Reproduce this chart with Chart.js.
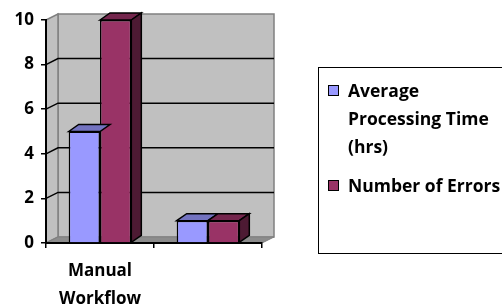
<!DOCTYPE html>
<html>
<head>
<meta charset="utf-8">
<script src="https://cdn.jsdelivr.net/npm/chart.js@4"></script>
<style>
  body { margin: 0; background: #fff; }
  #wrap { position: relative; width: 502px; height: 308px; overflow: hidden; }
  #legend { position: absolute; left: 318px; top: 67px; width: 200px; height: 187px;
    border: 1.5px solid #000; box-sizing: border-box; font: bold 17.5px "Open Sans"; color: #000; }
  .item { position: absolute; left: 0; }
  .sw { position: absolute; left: 9px; width: 9px; height: 9px; border: 1px solid #000; }
  .txt { position: absolute; left: 29px; line-height: 28px; white-space: nowrap; }
</style>
</head>
<body>
<div id="wrap">
  <canvas id="chart" width="502" height="308"></canvas>
  <div id="legend"></div>
</div>
<script>
// chart data
const categories = [['Manual', 'Workflow'], ''];
const seriesNames = ['Average Processing Time (hrs)', 'Number of Errors'];
const avgTime = [5, 1];
const errors = [10, 1];
const yMax = 10;
const yStep = 2;

const frontColors = ['#9999FF', '#993366'];
const topColors = ['#7373C0', '#74264D'];
const sideColors = ['#4C4C80', '#4D1A33'];

// wall depth / bar depth
const wallDx = 12, wallDy = 6;
const barDx = 10, barDy = 7;

function poly(ctx, pts, fill, stroke, lw) {
    ctx.beginPath();
    ctx.moveTo(pts[0][0], pts[0][1]);
    for (let i = 1; i < pts.length; i++) ctx.lineTo(pts[i][0], pts[i][1]);
    ctx.closePath();
    if (fill) { ctx.fillStyle = fill; ctx.fill(); }
    if (stroke) { ctx.strokeStyle = stroke; ctx.lineWidth = lw || 1; ctx.stroke(); }
}

const walls = {
    id: 'walls',
    beforeDraw(chart) {
        const ctx = chart.ctx;
        const a = chart.chartArea;
        const y = chart.scales.y;
        const L = a.left, R = a.right, T = a.top, B = a.bottom;
        ctx.save();
        // back wall
        poly(ctx, [[L + wallDx, T - wallDy], [R + wallDx, T - wallDy], [R + wallDx, B - wallDy], [L + wallDx, B - wallDy]], '#C0C0C0', '#808080', 1.5);
        // side wall
        poly(ctx, [[L, T], [L + wallDx, T - wallDy], [L + wallDx, B - wallDy], [L, B]], '#C0C0C0', '#808080', 1.5);
        // floor
        poly(ctx, [[L, B], [L + wallDx, B - wallDy], [R + wallDx, B - wallDy], [R, B]], '#8C8C8C', '#808080', 1);
        // gridlines on walls
        ctx.strokeStyle = '#000';
        ctx.lineWidth = 1.5;
        for (let v = yStep; v < yMax; v += yStep) {
            const py = y.getPixelForValue(v);
            ctx.beginPath();
            ctx.moveTo(L, py);
            ctx.lineTo(L + wallDx, py - wallDy);
            ctx.lineTo(R + wallDx, py - wallDy);
            ctx.stroke();
        }
        ctx.restore();
    }
};

const bars3d = {
    id: 'bars3d',
    afterDatasetsDraw(chart) {
        const ctx = chart.ctx;
        const n = chart.data.datasets.length;
        ctx.save();
        for (let d = 0; d < n; d++) {
            const meta = chart.getDatasetMeta(d);
            meta.data.forEach(bar => {
                const l = bar.x - bar.width / 2, r = bar.x + bar.width / 2;
                const t = bar.y, b = bar.base;
                poly(ctx, [[l, t], [l + barDx, t - barDy], [r + barDx, t - barDy], [r, t]], topColors[d], '#000', 1.5);
                if (d === n - 1) {
                    poly(ctx, [[r, t], [r + barDx, t - barDy], [r + barDx, b - barDy], [r, b]], sideColors[d], '#000', 1.5);
                }
            });
        }
        ctx.restore();
    }
};

const ctx = document.getElementById('chart').getContext('2d');
const myChart = new Chart(ctx, {
    type: 'bar',
    data: {
        labels: categories,
        datasets: [{
            label: seriesNames[0],
            data: avgTime,
            backgroundColor: frontColors[0],
            borderColor: '#000',
            borderWidth: 1.5
        }, {
            label: seriesNames[1],
            data: errors,
            backgroundColor: frontColors[1],
            borderColor: '#000',
            borderWidth: 1.5
        }]
    },
    options: {
        responsive: false,
        animation: false,
        layout: { padding: { top: 20, right: 240, left: 0, bottom: 0 } },
        datasets: { bar: { barPercentage: 1, categoryPercentage: 0.58 } },
        plugins: { legend: { display: false }, tooltip: { enabled: false } },
        scales: {
            x: {
                offset: true,
                grid: { drawOnChartArea: false, color: '#000', tickLength: 5, lineWidth: 1.5 },
                border: { color: '#000', width: 2 },
                ticks: { color: '#000', font: { family: 'Open Sans', weight: 'bold', size: 17, lineHeight: 1.65 }, padding: 9, maxRotation: 0 },
                afterFit: s => { s.height = 65; }
            },
            y: {
                min: 0,
                max: yMax,
                grid: { drawOnChartArea: false, color: '#000', tickLength: 5, lineWidth: 1.5 },
                border: { color: '#000', width: 2 },
                ticks: { stepSize: yStep, color: '#000', font: { family: 'Open Sans', weight: 'bold', size: 17 }, padding: 7 },
                afterFit: s => { s.width = 46; }
            }
        }
    },
    plugins: [walls, bars3d]
});

// legend box
const legendLines = [['Average', 'Processing Time', '(hrs)'], ['Number of Errors']];
const legendTops = [8, 103];
const legend = document.getElementById('legend');
legendLines.forEach((lines, i) => {
    const sw = document.createElement('div');
    sw.className = 'sw';
    sw.style.top = (legendTops[i] + 9) + 'px';
    sw.style.background = frontColors[i];
    legend.appendChild(sw);
    const txt = document.createElement('div');
    txt.className = 'txt';
    txt.style.top = legendTops[i] + 'px';
    txt.innerHTML = lines.join('<br>');
    legend.appendChild(txt);
});
</script>
</body>
</html>
